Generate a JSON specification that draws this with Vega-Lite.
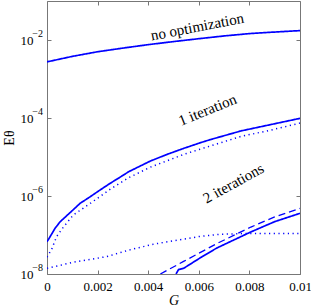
{
  "$schema": "https://vega.github.io/schema/vega-lite/v6.json",
  "autosize": "none",
  "padding": {"left": 47, "top": 1, "right": 11, "bottom": 33},
  "width": 253,
  "height": 273,
  "config": {
    "view": {"stroke": null},
    "font": "Liberation Serif",
    "axis": {
      "grid": false,
      "domainColor": "#777777",
      "tickColor": "#777777",
      "tickSize": -4,
      "labelFont": "Liberation Serif",
      "labelFontSize": 13,
      "labelColor": "#000000",
      "titleFont": "Liberation Serif",
      "titleFontWeight": "normal",
      "titleFontSize": 14,
      "titleColor": "#000000"
    }
  },
  "data": {
    "values": [
      {"series": "noopt", "style": "solid", "G": 0.0, "E": 2.75e-3},
      {"series": "noopt", "style": "solid", "G": 0.001, "E": 3.8e-3},
      {"series": "noopt", "style": "solid", "G": 0.002, "E": 5.0e-3},
      {"series": "noopt", "style": "solid", "G": 0.003, "E": 6.2e-3},
      {"series": "noopt", "style": "solid", "G": 0.004, "E": 7.6e-3},
      {"series": "noopt", "style": "solid", "G": 0.005, "E": 9.1e-3},
      {"series": "noopt", "style": "solid", "G": 0.006, "E": 1.08e-2},
      {"series": "noopt", "style": "solid", "G": 0.007, "E": 1.27e-2},
      {"series": "noopt", "style": "solid", "G": 0.008, "E": 1.46e-2},
      {"series": "noopt", "style": "solid", "G": 0.009, "E": 1.6e-2},
      {"series": "noopt", "style": "solid", "G": 0.01, "E": 1.74e-2},

      {"series": "it1s", "style": "solid", "G": 0.0, "E": 6.7e-8},
      {"series": "it1s", "style": "solid", "G": 0.00012, "E": 9.0e-8},
      {"series": "it1s", "style": "solid", "G": 0.00032, "E": 1.49e-7},
      {"series": "it1s", "style": "solid", "G": 0.00052, "E": 2.19e-7},
      {"series": "it1s", "style": "solid", "G": 0.00091, "E": 3.73e-7},
      {"series": "it1s", "style": "solid", "G": 0.00131, "E": 6.5e-7},
      {"series": "it1s", "style": "solid", "G": 0.00171, "E": 9.6e-7},
      {"series": "it1s", "style": "solid", "G": 0.0021, "E": 1.43e-6},
      {"series": "it1s", "style": "solid", "G": 0.0025, "E": 2.12e-6},
      {"series": "it1s", "style": "solid", "G": 0.0029, "E": 3.07e-6},
      {"series": "it1s", "style": "solid", "G": 0.00323, "E": 4.2e-6},
      {"series": "it1s", "style": "solid", "G": 0.00409, "E": 7.9e-6},
      {"series": "it1s", "style": "solid", "G": 0.00475, "E": 1.17e-5},
      {"series": "it1s", "style": "solid", "G": 0.00541, "E": 1.67e-5},
      {"series": "it1s", "style": "solid", "G": 0.00607, "E": 2.33e-5},
      {"series": "it1s", "style": "solid", "G": 0.00647, "E": 2.81e-5},
      {"series": "it1s", "style": "solid", "G": 0.00766, "E": 4.65e-5},
      {"series": "it1s", "style": "solid", "G": 0.00885, "E": 6.8e-5},
      {"series": "it1s", "style": "solid", "G": 0.01, "E": 9.8e-5},

      {"series": "it1d", "style": "dotted", "G": 0.0, "E": 2.7e-8},
      {"series": "it1d", "style": "dotted", "G": 0.00019, "E": 4.4e-8},
      {"series": "it1d", "style": "dotted", "G": 0.00038, "E": 9.1e-8},
      {"series": "it1d", "style": "dotted", "G": 0.00065, "E": 1.6e-7},
      {"series": "it1d", "style": "dotted", "G": 0.00104, "E": 3.26e-7},
      {"series": "it1d", "style": "dotted", "G": 0.0017, "E": 6.4e-7},
      {"series": "it1d", "style": "dotted", "G": 0.0025, "E": 1.49e-6},
      {"series": "it1d", "style": "dotted", "G": 0.00323, "E": 2.95e-6},
      {"series": "it1d", "style": "dotted", "G": 0.00409, "E": 5.5e-6},
      {"series": "it1d", "style": "dotted", "G": 0.00541, "E": 1.17e-5},
      {"series": "it1d", "style": "dotted", "G": 0.00647, "E": 1.93e-5},
      {"series": "it1d", "style": "dotted", "G": 0.00766, "E": 3.36e-5},
      {"series": "it1d", "style": "dotted", "G": 0.00885, "E": 4.9e-5},
      {"series": "it1d", "style": "dotted", "G": 0.01, "E": 7.4e-5},

      {"series": "it2d", "style": "dotted", "G": 0.0, "E": 1.4e-8},
      {"series": "it2d", "style": "dotted", "G": 0.00104, "E": 2.0e-8},
      {"series": "it2d", "style": "dotted", "G": 0.00237, "E": 2.8e-8},
      {"series": "it2d", "style": "dotted", "G": 0.00323, "E": 4.1e-8},
      {"series": "it2d", "style": "dotted", "G": 0.0042, "E": 5.8e-8},
      {"series": "it2d", "style": "dotted", "G": 0.006, "E": 9.1e-8},
      {"series": "it2d", "style": "dotted", "G": 0.0068, "E": 1.04e-7},
      {"series": "it2d", "style": "dotted", "G": 0.008, "E": 1.1e-7},
      {"series": "it2d", "style": "dotted", "G": 0.01, "E": 1.1e-7},

      {"series": "it2dash", "style": "dashed", "G": 0.00448, "E": 1.0e-8},
      {"series": "it2dash", "style": "dashed", "G": 0.0054, "E": 2.1e-8},
      {"series": "it2dash", "style": "dashed", "G": 0.00673, "E": 6.1e-8},
      {"series": "it2dash", "style": "dashed", "G": 0.00806, "E": 1.6e-7},
      {"series": "it2dash", "style": "dashed", "G": 0.009, "E": 2.9e-7},
      {"series": "it2dash", "style": "dashed", "G": 0.01, "E": 4.8e-7},

      {"series": "it2s", "style": "solid", "G": 0.0051, "E": 1.0e-8},
      {"series": "it2s", "style": "solid", "G": 0.0052, "E": 1.3e-8},
      {"series": "it2s", "style": "solid", "G": 0.0054, "E": 1.4e-8},
      {"series": "it2s", "style": "solid", "G": 0.0061, "E": 2.7e-8},
      {"series": "it2s", "style": "solid", "G": 0.0067, "E": 4.6e-8},
      {"series": "it2s", "style": "solid", "G": 0.00806, "E": 1.2e-7},
      {"series": "it2s", "style": "solid", "G": 0.009, "E": 2.2e-7},
      {"series": "it2s", "style": "solid", "G": 0.01, "E": 3.6e-7}
    ]
  },
  "layer": [
    {
      "mark": {"type": "line", "color": "#0000ff", "clip": true},
      "encoding": {
        "x": {"field": "G", "type": "quantitative", "scale": {"domain": [0, 0.01], "nice": false},
          "axis": {"orient": "bottom", "values": [0, 0.002, 0.004, 0.006, 0.008, 0.01], "format": "~g", "labelPadding": 10, "title": "G", "titleFontStyle": "italic", "titlePadding": 0, "labelFlush": false}},
        "y": {"field": "E", "type": "quantitative", "scale": {"type": "log", "domain": [1e-8, 0.1], "nice": false},
          "axis": {"orient": "left", "values": [1e-8, 1e-6, 1e-4, 1e-2], "labelPadding": 18, "labelFlush": false,
            "labelExpr": "'10'",
            "title": "Eθ", "titlePadding": 4}},
        "detail": {"field": "series"},
        "strokeDash": {"field": "style", "type": "nominal", "scale": {"domain": ["solid", "dotted", "dashed"], "range": [[1, 0], [1.2, 3.5], [7, 4]]}, "legend": null},
        "strokeWidth": {"field": "style", "type": "nominal", "scale": {"domain": ["solid", "dotted", "dashed"], "range": [1.7, 1.3, 1.7]}, "legend": null}
      }
    },
    {
      "mark": {"type": "rule", "opacity": 0},
      "encoding": {
        "x": {"field": "G", "type": "quantitative", "axis": {"orient": "top", "values": [0, 0.002, 0.004, 0.006, 0.008, 0.01], "labels": false, "title": null}},
        "y": {"field": "E", "type": "quantitative", "axis": {"orient": "right", "values": [1e-8, 1e-6, 1e-4, 1e-2], "labels": false, "title": null}}
      }
    },
    {
      "data": {"values": [
        {"G": 0, "E": 1e-8, "exp": "−8"},
        {"G": 0, "E": 1e-6, "exp": "−6"},
        {"G": 0, "E": 1e-4, "exp": "−4"},
        {"G": 0, "E": 1e-2, "exp": "−2"}
      ]},
      "mark": {"type": "text", "font": "Liberation Serif", "fontSize": 10, "align": "right", "baseline": "middle", "dx": -4, "dy": -6, "color": "#000000"},
      "encoding": {
        "x": {"field": "G", "type": "quantitative", "axis": null},
        "y": {"field": "E", "type": "quantitative", "axis": null},
        "text": {"field": "exp"}
      }
    },
    {
      "data": {"values": [{"G": 0.00594, "E": 0.022, "label": "no optimization"}]},
      "mark": {"type": "text", "font": "Liberation Serif", "fontSize": 15, "angle": 349, "color": "#000000"},
      "encoding": {
        "x": {"field": "G", "type": "quantitative", "axis": null},
        "y": {"field": "E", "type": "quantitative", "axis": null},
        "text": {"field": "label"}
      }
    },
    {
      "data": {"values": [{"G": 0.00634, "E": 1.62e-4, "label": "1 iteration"}]},
      "mark": {"type": "text", "font": "Liberation Serif", "fontSize": 15, "angle": 338, "color": "#000000"},
      "encoding": {
        "x": {"field": "G", "type": "quantitative", "axis": null},
        "y": {"field": "E", "type": "quantitative", "axis": null},
        "text": {"field": "label"}
      }
    },
    {
      "data": {"values": [{"G": 0.00737, "E": 2.13e-6, "label": "2 iterations"}]},
      "mark": {"type": "text", "font": "Liberation Serif", "fontSize": 15, "angle": 331, "color": "#000000"},
      "encoding": {
        "x": {"field": "G", "type": "quantitative", "axis": null},
        "y": {"field": "E", "type": "quantitative", "axis": null},
        "text": {"field": "label"}
      }
    }
  ],
  "resolve": {"axis": {"x": "independent", "y": "independent"}}
}
